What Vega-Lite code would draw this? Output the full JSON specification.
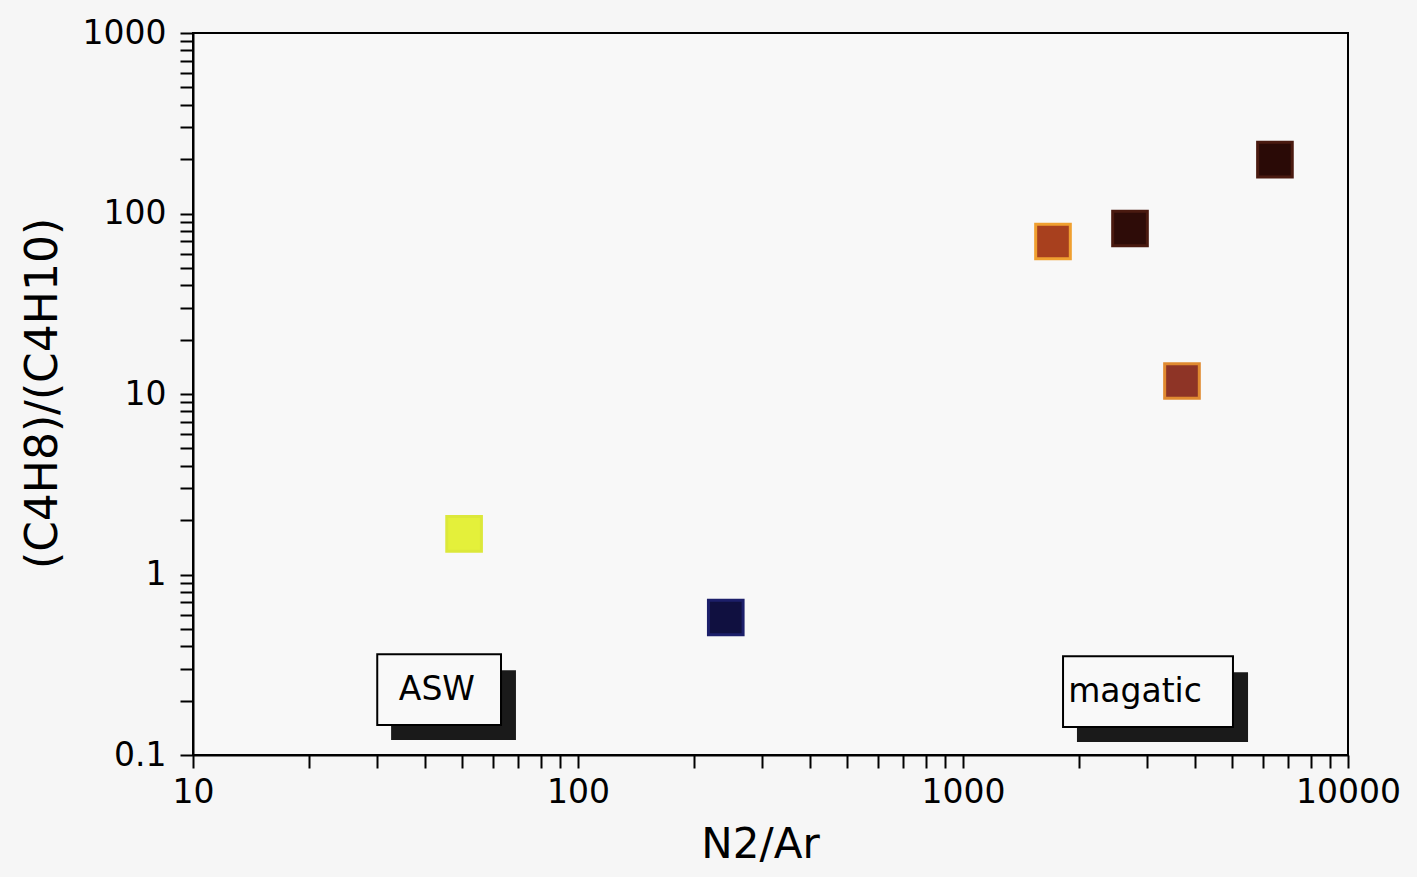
{
  "$schema": "https://vega.github.io/schema/vega-lite/v6.json",
  "autosize": {"type": "none"},
  "width": 1155,
  "height": 722,
  "padding": {"left": 193, "top": 33, "right": 69, "bottom": 122},
  "background": "#f6f6f6",
  "config": {
    "font": "DejaVu Sans",
    "view": {"stroke": "black", "strokeWidth": 2, "fill": "#f8f8f8"},
    "axis": {
      "grid": false,
      "domainColor": "black",
      "domainWidth": 2,
      "tickColor": "black",
      "tickWidth": 2,
      "tickSize": 13,
      "labelColor": "black",
      "titleColor": "black",
      "labelFont": "DejaVu Sans",
      "titleFont": "DejaVu Sans",
      "titleFontWeight": "normal",
      "labelOverlap": false,
      "labelFlush": false,
      "labelBound": false
    }
  },
  "datasets": {
    "pts": [
      {"n2ar": 50.6, "ratio": 1.68, "sample": "s1"},
      {"n2ar": 242, "ratio": 0.578, "sample": "s2"},
      {"n2ar": 1713, "ratio": 70.0, "sample": "s3"},
      {"n2ar": 2715, "ratio": 82.6, "sample": "s4"},
      {"n2ar": 6460, "ratio": 198.7, "sample": "s5"},
      {"n2ar": 3705, "ratio": 11.8, "sample": "s6"}
    ],
    "boxes": [
      {"label": "ASW", "tx": 43.0, "ty": 0.2286, "bx0": 30.1, "bx1": 63.1, "by0": 0.1465, "by1": 0.361, "sx0": 32.7, "sx1": 69.0, "sy0": 0.121, "sy1": 0.295},
      {"label": "magatic", "tx": 2798, "ty": 0.2228, "bx0": 1819, "bx1": 5026, "by0": 0.1428, "by1": 0.352, "sx0": 1977, "sx1": 5500, "sy0": 0.118, "sy1": 0.2874}
    ]
  },
  "layer": [
    {
      "data": {"name": "pts"},
      "mark": {"type": "point", "shape": "square", "filled": true, "size": 1200, "opacity": 1, "strokeWidth": 3},
      "encoding": {
        "x": {
          "field": "n2ar", "type": "quantitative",
          "scale": {"type": "log", "domain": [10, 10000], "nice": false},
          "axis": {
            "title": "N2/Ar",
            "values": [10,20,30,40,50,60,70,80,90,100,200,300,400,500,600,700,800,900,1000,2000,3000,4000,5000,6000,7000,8000,9000,10000],
            "format": "~g",
            "labelExpr": "indexof([10,100,1000,10000], datum.value) >= 0 ? datum.label : ''",
            "labelFontSize": 33,
            "labelPadding": 8,
            "titleFontSize": 42,
            "titleX": 567,
            "titleY": 89,
            "titleBaseline": "middle",
            "titleAlign": "center"
          }
        },
        "y": {
          "field": "ratio", "type": "quantitative",
          "scale": {"type": "log", "domain": [0.1, 1000], "nice": false},
          "axis": {
            "title": "(C4H8)/(C4H10)",
            "values": [0.1,0.2,0.3,0.4,0.5,0.6,0.7,0.8,0.9,1,2,3,4,5,6,7,8,9,10,20,30,40,50,60,70,80,90,100,200,300,400,500,600,700,800,900,1000],
            "format": "~g",
            "labelExpr": "indexof([0.1,1,10,100,1000], datum.value) >= 0 ? datum.label : ''",
            "labelFontSize": 33,
            "labelPadding": 14,
            "titleFontSize": 44,
            "titleX": -150,
            "titleY": 360,
            "titleBaseline": "middle",
            "titleAlign": "center",
            "titleAngle": 270
          }
        },
        "fill": {
          "field": "sample", "type": "nominal",
          "scale": {"domain": ["s1","s2","s3","s4","s5","s6"], "range": ["#e4f03a", "#101040", "#a8401e", "#2e0c08", "#2a0a06", "#8e3426"]},
          "legend": null
        },
        "stroke": {
          "field": "sample", "type": "nominal",
          "scale": {"domain": ["s1","s2","s3","s4","s5","s6"], "range": ["#dce83a", "#1c1f6a", "#f0a030", "#4a1a10", "#4a1a10", "#e08a30"]},
          "legend": null
        }
      }
    },
    {
      "data": {"name": "boxes"},
      "mark": {"type": "rect", "color": "#1a1a1a"},
      "encoding": {
        "x": {"field": "sx0", "type": "quantitative"},
        "x2": {"field": "sx1"},
        "y": {"field": "sy0", "type": "quantitative"},
        "y2": {"field": "sy1"}
      }
    },
    {
      "data": {"name": "boxes"},
      "mark": {"type": "rect", "fill": "#f9f9f9", "stroke": "black", "strokeWidth": 2},
      "encoding": {
        "x": {"field": "bx0", "type": "quantitative"},
        "x2": {"field": "bx1"},
        "y": {"field": "by0", "type": "quantitative"},
        "y2": {"field": "by1"}
      }
    },
    {
      "data": {"name": "boxes"},
      "mark": {"type": "text", "fontSize": 33, "color": "black", "align": "center", "baseline": "middle"},
      "encoding": {
        "x": {"field": "tx", "type": "quantitative"},
        "y": {"field": "ty", "type": "quantitative"},
        "text": {"field": "label"}
      }
    }
  ]
}
